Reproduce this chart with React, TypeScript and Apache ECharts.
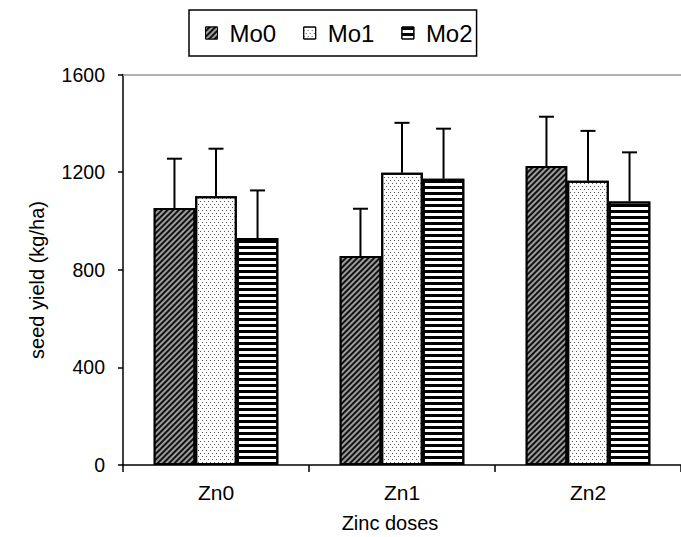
import React, { useEffect, useRef } from "react";
import * as echarts from "echarts";

const categories = ["Zn0", "Zn1", "Zn2"];
const seriesNames = ["Mo0", "Mo1", "Mo2"];
const mo0 = [1053, 856, 1225];
const mo1 = [1101, 1197, 1165];
const mo2 = [930, 1173, 1080];
const err0 = [202, 194, 202];
const err1 = [195, 205, 204];
const err2 = [195, 205, 201];
const yTicks = { min: 0, max: 1600, interval: 400 };

const FONT = "'Liberation Sans', Arial, sans-serif";
const GAP = 0.33;

export default function App() {
  const ref = useRef<HTMLDivElement>(null);
  useEffect(() => {
    if (!ref.current) return;
    const chart = echarts.init(ref.current, undefined, { renderer: "svg" });
    const values = [mo0, mo1, mo2];
    const errs = [err0, err1, err2];
    const decals: any[] = [
      {
        symbol: "rect",
        symbolSize: 1,
        color: "#9c9c9c",
        dashArrayX: [1, 0],
        dashArrayY: [1.2, 1.8],
        rotation: -Math.PI / 4,
      },
      {
        symbol: "rect",
        symbolSize: 1,
        color: "#555",
        dashArrayX: [
          [1, 3],
          [0, 2, 1, 1],
        ],
        dashArrayY: [1, 2],
        rotation: 0,
      },
      {
        symbol: "rect",
        symbolSize: 1,
        color: "#000",
        dashArrayX: [1, 0],
        dashArrayY: [3, 3],
        rotation: 0,
      },
    ];
    const bgColors = ["#111111", "#ffffff", "#ffffff"];

    const barSeries = seriesNames.map((name, si) => ({
      name,
      type: "bar",
      data: values[si],
      barGap: "0%",
      barCategoryGap: GAP * 100 + "%",
      itemStyle: {
        color: bgColors[si],
        borderColor: "#000",
        borderWidth: 2,
        decal: decals[si],
      },
      z: 2,
      ...(si === 0
        ? {
            markLine: {
              silent: true,
              symbol: "none",
              label: { show: false },
              lineStyle: { color: "#999", width: 1.5, type: "solid" },
              data: [{ yAxis: yTicks.max }],
            },
          }
        : {}),
    }));

    const errSeries = seriesNames.map((name, si) => ({
      name: name + "_err",
      type: "custom",
      data: categories.map((c, i) => [i, values[si][i], errs[si][i]]),
      encode: { x: 0, y: 1 },
      z: 3,
      renderItem: (params: any, api: any) => {
        const cat = api.value(0);
        const v = api.value(1);
        const e = api.value(2);
        const base = api.coord([cat, v]);
        const top = api.coord([cat, v + e]);
        const catW = api.size([1, 0])[0];
        const bw = (catW * (1 - GAP)) / 3;
        const x = base[0] + (si - 1) * bw;
        return {
          type: "group",
          children: [
            {
              type: "line",
              shape: { x1: x, y1: base[1], x2: x, y2: top[1] },
              style: { stroke: "#000", lineWidth: 2 },
            },
            {
              type: "line",
              shape: { x1: x - 7.5, y1: top[1], x2: x + 7.5, y2: top[1] },
              style: { stroke: "#000", lineWidth: 2 },
            },
          ],
        };
      },
    }));

    chart.setOption({
      animation: false,
      backgroundColor: "#fff",
      textStyle: { fontFamily: FONT },
      grid: { left: 123, top: 74.5, width: 565, height: 390.5, containLabel: false },
      legend: {
        data: seriesNames,
        left: 189,
        top: 10,
        orient: "horizontal",
        padding: [11, 4, 11, 16],
        borderColor: "#000",
        borderWidth: 1.5,
        itemWidth: 12,
        itemHeight: 12,
        itemGap: 27,
        icon: "rect",
        itemStyle: { borderWidth: 1, borderColor: "#000" },
        textStyle: {
          fontFamily: FONT,
          fontSize: 24,
          color: "#000",
          padding: [0, 0, 0, 7],
        },
      },
      xAxis: {
        type: "category",
        data: categories,
        axisLine: { lineStyle: { color: "#000", width: 1.5 } },
        axisTick: { show: true, length: 7, alignWithLabel: false, lineStyle: { color: "#000", width: 1.5 } },
        axisLabel: { color: "#000", fontSize: 21, fontFamily: FONT, margin: 17 },
        splitLine: { show: false },
      },
      yAxis: {
        type: "value",
        min: yTicks.min,
        max: yTicks.max,
        interval: yTicks.interval,
        axisLine: { show: true, lineStyle: { color: "#000", width: 1.5 } },
        axisTick: { show: true, length: 5, lineStyle: { color: "#000", width: 1.5 } },
        axisLabel: {
          color: "#000",
          fontSize: 19.5,
          fontFamily: FONT,
          margin: 18,
          formatter: (v: number) => String(v),
        },
        splitLine: { show: false },
      },
      graphic: [
        {
          type: "text",
          x: 390,
          y: 523,
          style: {
            text: "Zinc doses",
            fontSize: 20,
            fontFamily: FONT,
            fill: "#000",
            align: "center",
            verticalAlign: "middle",
          },
        },
        {
          type: "text",
          x: 37,
          y: 280,
          rotation: Math.PI / 2,
          style: {
            text: "seed yield (kg/ha)",
            fontSize: 20,
            fontFamily: FONT,
            fill: "#000",
            align: "center",
            verticalAlign: "middle",
          },
        },
      ],
      series: [...barSeries, ...errSeries],
    });
    return () => chart.dispose();
  }, []);
  return (
    <div
      ref={ref}
      style={{ position: "absolute", left: 0, top: 0, width: 681, height: 537, background: "#fff" }}
    />
  );
}
